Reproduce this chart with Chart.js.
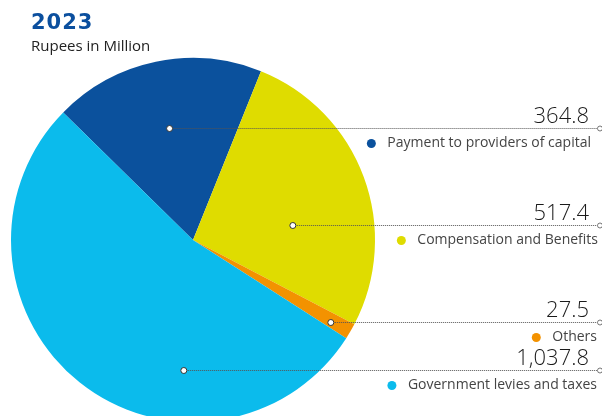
<!DOCTYPE html>
<html>
<head>
<meta charset="utf-8">
<script src="https://cdn.jsdelivr.net/npm/chart.js@4.4.1/dist/chart.umd.min.js"></script>
<style>
  html, body { margin: 0; padding: 0; background: #fff; }
  #wrap { position: relative; width: 602px; height: 416px; overflow: hidden; }
  #pie { position: absolute; left: 0; top: 0; }
  #year { position: absolute; left: 31px; top: 10px; font: bold 21px "DejaVu Sans", sans-serif; color: #0b4f9e; letter-spacing: 1px; line-height: 24px; }
  #unit { position: absolute; left: 31px; top: 35px; font: 15px "Open Sans", sans-serif; color: #222; line-height: 20px; }
</style>
</head>
<body>
<div id="wrap">
  <canvas id="pie" width="602" height="440"></canvas>
  <div id="year">2023</div>
  <div id="unit">Rupees in Million</div>
</div>
<script>
// Value added distribution, Rupees in Million
const categories = [
  'Payment to providers of capital',
  'Compensation and Benefits',
  'Others',
  'Government levies and taxes'
];
const amounts = [364.8, 517.4, 27.5, 1037.8];
const sliceColors = ['#0b519d', '#dfdc00', '#f39200', '#0bbbec'];

// Callout placement: where the marker sits inside each slice
// (fraction along the slice's sweep, fraction of the radius)
const markerSweep = [0.5, 0.62, 0.6, 0.32];
const markerRadius = [0.63, 0.555, 0.88, 0.714];
// right edge of each category caption
const captionRight = [591, 598, 597, 597];

const fmt = new Intl.NumberFormat('en-US', { minimumFractionDigits: 1, maximumFractionDigits: 1 });

const calloutPlugin = {
  id: 'callouts',
  afterDatasetsDraw(chart) {
    const ctx = chart.ctx;
    const meta = chart.getDatasetMeta(0);
    const lineEnd = 600;
    meta.data.forEach((arc, i) => {
      const p = arc.getProps(['x', 'y', 'startAngle', 'endAngle', 'outerRadius'], true);
      const a = p.startAngle + markerSweep[i] * (p.endAngle - p.startAngle);
      const r = markerRadius[i] * p.outerRadius;
      const mx = p.x + Math.cos(a) * r;
      const my = Math.round(p.y + Math.sin(a) * r) + 0.5;

      ctx.save();
      // dotted leader
      ctx.strokeStyle = '#555';
      ctx.lineWidth = 1;
      ctx.setLineDash([1, 1]);
      ctx.beginPath();
      ctx.moveTo(mx, my);
      ctx.lineTo(lineEnd, my);
      ctx.stroke();
      ctx.setLineDash([]);
      // marker inside the slice
      ctx.fillStyle = '#fff';
      ctx.strokeStyle = '#333';
      ctx.beginPath();
      ctx.arc(mx, my, 3, 0, Math.PI * 2);
      ctx.fill();
      ctx.stroke();
      // open end cap
      ctx.strokeStyle = '#777';
      ctx.beginPath();
      ctx.arc(lineEnd, my, 2.5, 0, Math.PI * 2);
      ctx.fill();
      ctx.stroke();

      // value above the leader
      ctx.fillStyle = '#1a1a1a';
      ctx.font = '300 22px "Open Sans", sans-serif';
      ctx.textAlign = 'right';
      ctx.textBaseline = 'alphabetic';
      ctx.fillText(fmt.format(amounts[i]), 589, my - 6);

      // category name below the leader, with a coloured bullet
      ctx.font = '14px "Open Sans", sans-serif';
      ctx.fillStyle = '#444';
      ctx.textBaseline = 'middle';
      const ty = my + 15;
      const right = captionRight[i];
      ctx.fillText(categories[i], right, ty);
      const w = ctx.measureText(categories[i]).width;
      ctx.fillStyle = sliceColors[i];
      ctx.beginPath();
      ctx.arc(right - w - 16, ty, 4.5, 0, Math.PI * 2);
      ctx.fill();
      ctx.restore();
    });
  }
};

new Chart(document.getElementById('pie'), {
  type: 'pie',
  data: {
    labels: categories,
    datasets: [{
      data: amounts,
      backgroundColor: sliceColors,
      borderWidth: 0,
      hoverOffset: 0,
      offset: 0
    }]
  },
  options: {
    responsive: false,
    animation: false,
    events: [],
    rotation: -45.5,
    layout: { padding: { left: 11, right: 227, top: 58, bottom: 18 } },
    plugins: {
      legend: { display: false },
      tooltip: { enabled: false }
    }
  },
  plugins: [calloutPlugin]
});
</script>
</body>
</html>
